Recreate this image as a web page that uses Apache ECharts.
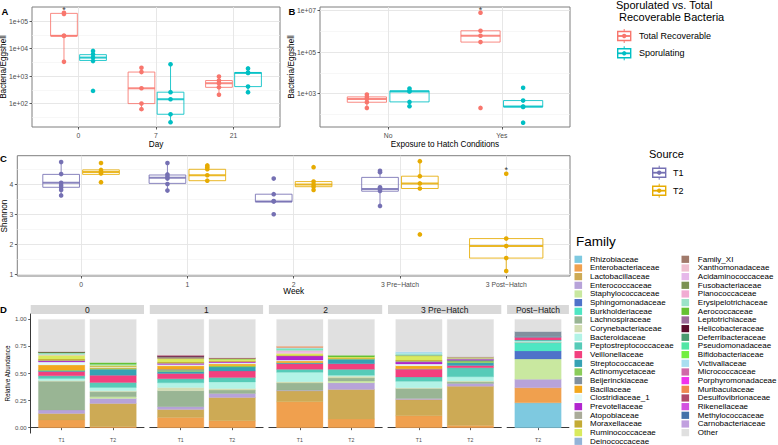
<!DOCTYPE html>
<html><head><meta charset="utf-8">
<script src="https://cdn.jsdelivr.net/npm/echarts@6/dist/echarts.min.js"></script>
<style>html,body{margin:0;padding:0;background:#fff}#c{width:778px;height:445px}</style>
</head><body><div id="c"></div>
<script>
// ================= DATA =================
// Panel A: Bacteria/Eggshell by Day. Box stats: [low whisker, Q1, median, Q3, high whisker]
const dayCats = ['0', '7', '21'];
const dayTotalBox = [[3300, 29000, 29000, 190000, 200000], [63, 100, 360, 1400, 2000], [210, 390, 550, 690, 960]];
const daySporBox  = [[3500, 3700, 4700, 6000, 8200], [21, 41, 144, 260, 2700], [260, 415, 1300, 1340, 1900]];
const dayTotalPts = [[200000, 180000, 29000, 29000, 3300], [2000, 1400, 360, 100, 63], [960, 690, 550, 390, 210]];
const daySporPts  = [[8200, 6200, 4700, 3500, 290], [2700, 260, 144, 41, 21], [1900, 1340, 1300, 415, 260]];
const daySig = [[0, 310000]];            // [category index, y] of "*" above Total Recoverable
const dayTickVals = [100, 1000, 10000, 100000];
const dayTickLabels = ['1e+02', '1e+03', '1e+04', '1e+05'];

// Panel B: Bacteria/Eggshell by exposure to hatch conditions
const expCats = ['No', 'Yes'];
const expTotalBox = [[205, 385, 557, 695, 900], [300000, 300000, 605000, 1050000, 1050000]];
const expSporBox  = [[247, 400, 1260, 1355, 1750], [229, 229, 238, 463, 463]];
const expTotalPts = [[900, 695, 557, 385, 205], [7800000, 1050000, 605000, 300000, 205]];
const expSporPts  = [[1750, 1355, 1260, 400, 247], [1900, 463, 238, 229, 40]];
const expSig = [[1, 13500000]];
const expTickVals = [1000, 100000, 10000000];
const expTickLabels = ['1e+03', '1e+05', '1e+07'];

// Panel C: Shannon diversity by week and source
const weekCats = ['0', '1', '2', '3 Pre\u2212Hatch', '3 Post\u2212Hatch'];
const weekT1Box = [[3.63, 3.90, 4.05, 4.33, 4.74], [3.79, 4.03, 4.22, 4.31, 4.71], [3.42, 3.42, 3.43, 3.67, 3.67], [3.28, 3.77, 3.84, 4.23, 4.45], null];
const weekT2Box = [[4.33, 4.33, 4.41, 4.48, 4.48], [4.10, 4.12, 4.30, 4.50, 4.63], [3.81, 3.92, 3.99, 4.09, 4.09], [3.86, 3.86, 4.03, 4.27, 4.77], [1.11, 1.54, 1.94, 2.19, 2.19]];
const weekT1Pts = [[4.74, 4.34, 4.05, 3.97, 3.89, 3.81, 3.63], [4.71, 4.33, 4.25, 4.19, 4.01, 3.79], [4.19, 3.67, 3.44, 3.43, 3.00], [4.45, 4.40, 3.90, 3.84, 3.78, 3.28], []];
const weekT2Pts = [[4.71, 4.48, 4.41, 4.36, 4.07], [4.63, 4.57, 4.50, 4.30, 4.12], [4.57, 4.09, 3.99, 3.92, 3.81], [4.77, 4.27, 4.03, 3.86, 2.33], [4.35, 2.19, 1.94, 1.54, 1.11]];
const weekSig = [[4, 4.55]];
const shannonTicks = [1, 2, 3, 4];

// Panel D: relative abundance by family
const famNames = ['Rhizobiaceae','Enterobacteriaceae','Lactobacillaceae','Enterococcaceae','Staphylococcaceae','Sphingomonadaceae','Burkholderiaceae','Lachnospiraceae','Corynebacteriaceae','Bacteroidaceae','Peptostreptococcaceae','Veillonellaceae','Streptococcaceae','Actinomycetaceae','Beijerinckiaceae','Bacillaceae','Clostridiaceae_1','Prevotellaceae','Atopobiaceae','Moraxellaceae','Ruminococcaceae','Deinococcaceae','Family_XI','Xanthomonadaceae','Acidaminococcaceae','Fusobacteriaceae','Planococcaceae','Erysipelotrichaceae','Aerococcaceae','Leptotrichiaceae','Helicobacteraceae','Deferribacteraceae','Pseudomonadaceae','Bifidobacteriaceae','Victivallaceae','Micrococcaceae','Porphyromonadaceae','Muribaculaceae','Desulfovibrionaceae','Rikenellaceae','Methylococcaceae','Carnobacteriaceae','Other'];
const famColors = ['#7ec9e0','#f0a04e','#cdaa55','#b7a3d9','#c9e8a0','#4e72c9','#4ee6c3','#99b594','#d2ddb3','#b2f3e6','#56cbb8','#f2407e','#36a2b4','#8bcc5a','#80909e','#f3a81d','#e2f8f8','#b126cf','#aaab99','#c4ab35','#d9ea5e','#93b3d8','#a17a6b','#efc0d0','#e6b8ea','#7b9152','#f1acd3','#9be3c9','#64c132','#9c6a9a','#5b0b2b','#4b9b70','#52e6a5','#72ef3f','#a9def0','#d068a9','#f033ee','#f0884f','#b14a6a','#d351e0','#4472aa','#c1a0df','#e0e0e0'];
const facetNames = ['0', '1', '2', '3 Pre\u2212Hatch', 'Post\u2212Hatch'];
const facetSources = [['T1', 'T2'], ['T1', 'T2'], ['T1', 'T2'], ['T1', 'T2'], ['T2']];
const ab_0_T1 = [0,.071,.061,.031,0,0,0,.267,.006,.018, .025,.040,.008,.006,0,.046,.028,.009,.006,.012, .034,0,0,.007,0,0,0,.015,.006,0, .006,0,0,0,0,0,0,0,0,0, 0,0,.298];
const ab_0_T2 = [0,.009,.215,.046,.015,0,0,.046,.009,.031, .046,.067,.055,.009,0,.009,.006,0,0,.006, .008,0,0,0,0,0,0,.009,.015,0, 0,0,0,0,0,0,0,0,0,0, 0,0,.399];
const ab_1_T1 = [0,.095,.074,.025,0,0,0,.147,.031,.043, .037,.049,.018,.012,.009,.031,.012,.009,.006,.009, .031,0,.009,0,0,.004,0,0,0,.006, .006,0,0,0,0,0,0,0,.006,0, 0,0,.331];
const ab_1_T2 = [0,.064,.215,.037,0,0,0,.031,.015,.061, .040,.061,.037,.012,0,.015,.012,.009,0,.009, .015,0,0,0,0,0,0,0,.006,0, 0,0,0,0,0,0,0,0,.008,0, 0,0,.353];
const ab_2_T1 = [0,.239,.101,.006,0,0,0,.067,.012,.086, .028,.052,.009,0,0,.015,.009,.037,0,.009, .015,0,0,.009,.009,0,.009,.009,0,0, 0,0,.010,0,.009,0,0,.012,0,0, 0,0,.248];
const ab_2_T2 = [0,.080,.273,.061,.018,0,0,.028,.015,.009, .055,.052,.040,.009,0,.006,0,0,0,0, .008,0,0,0,0,0,0,0,.015,0, 0,0,0,0,0,0,0,0,0,0, 0,0,.331];
const ab_3_T1 = [0,.110,.150,.009,0,0,0,.092,.009,.058, .040,.071,0,0,.006,.028,.015,.018,.009,.009, .040,0,0,0,0,.006,0,.016,0,0, 0,0,0,0,.015,0,0,0,0,0, 0,0,.298];
const ab_3_T2 = [0,.021,.362,.025,0,0,0,.015,.008,.040, .083,.021,.025,.015,.009,0,0,.009,.009,0, .008,0,0,0,0,0,0,0,0,.006, 0,0,0,0,0,0,0,0,0,0, 0,0,.344];
const ab_P_T2 = [.230,.138,0,.080,.187,.074,.074,.006,0,.012, .010,.025,.006,0,.046,0,0,0,0,0, 0,0,0,0,0,0,0,0,0,0, 0,0,0,0,0,0,0,0,0,0, 0,0,.112];
const facetSamples = [[ab_0_T1, ab_0_T2], [ab_1_T1, ab_1_T2], [ab_2_T1, ab_2_T2], [ab_3_T1, ab_3_T2], [ab_P_T2]];
const abTickVals = [0, 0.25, 0.5, 0.75, 1];
const abTickLabels = ['0.00', '0.25', '0.50', '0.75', '1.00'];

// ================= STYLE / LAYOUT =================
const FONT = '"Liberation Sans", Arial, Helvetica, sans-serif';
const RED = '#F8766D', TEAL = '#00BFC4', T1C = '#7570B3', T2C = '#E6AB02';
const GRID_MAJ = '#e4e4e4', GRID_MIN = '#f1f1f1', BORDER = '#7f7f7f', TXT = '#4d4d4d';
const DODGE = 0.1875, BOXW = 0.345, BARW = 0.9;
const L = Math.log10;

const gridA = {left: 32, top: 7, width: 248, height: 120};
const gridB = {left: 320, top: 7, width: 250, height: 120};
const gridC = {left: 17.3, top: 155.7, width: 552.7, height: 120.3};
const dTop = 314, dH = 119.1;
const facetLeft = [30.7, 149.8, 268.9, 388, 507.1];
const facetW = [113.3, 113.3, 113.3, 113.3, 61.8];

function renderBox(color) {
  return function (params, api) {
    const x = api.value(0), w = api.value(6);
    const lo = api.coord([x, api.value(1)]), q1 = api.coord([x, api.value(2)]);
    const md = api.coord([x, api.value(3)]), q3 = api.coord([x, api.value(4)]), hi = api.coord([x, api.value(5)]);
    const xl = api.coord([x - w / 2, api.value(3)])[0], xr = api.coord([x + w / 2, api.value(3)])[0];
    const st = {stroke: color, lineWidth: 1, fill: null, opacity: 0.85};
    return {type: 'group', children: [
      {type: 'line', shape: {x1: hi[0], y1: hi[1], x2: hi[0], y2: q3[1]}, style: st},
      {type: 'line', shape: {x1: lo[0], y1: q1[1], x2: lo[0], y2: lo[1]}, style: st},
      {type: 'rect', shape: {x: xl, y: q3[1], width: xr - xl, height: q1[1] - q3[1]}, style: st},
      {type: 'line', shape: {x1: xl, y1: md[1], x2: xr, y2: md[1]}, style: Object.assign({}, st, {lineWidth: 2})}
    ]};
  };
}
function boxSeries(idx, stats, offs, widths, color, tf) {
  const data = [];
  stats.forEach((s, i) => { if (s) data.push([i + 1 + offs[i], ...s.map(tf), widths[i]]); });
  return {type: 'custom', xAxisIndex: idx, yAxisIndex: idx, renderItem: renderBox(color), data: data,
          encode: {x: 0, y: [1, 2, 3, 4, 5]}, silent: true, z: 2};
}
function ptSeries(idx, pts, offs, color, tf) {
  const data = [];
  pts.forEach((arr, i) => arr.forEach(v => data.push([i + 1 + offs[i], tf(v)])));
  return {type: 'scatter', xAxisIndex: idx, yAxisIndex: idx, data: data, symbolSize: 4.6,
          itemStyle: {color: color, opacity: 1}, silent: true, z: 3};
}
function sigSeries(idx, sig, off, tf) {
  return {type: 'scatter', xAxisIndex: idx, yAxisIndex: idx, symbolSize: 0, silent: true, z: 4, clip: false,
          data: sig.map(s => [s[0] + 1 + off, tf(s[1])]),
          label: {show: true, position: 'inside', formatter: '*', fontSize: 9, fontFamily: FONT, color: '#000', offset: [0, 2.5]}};
}
const ident = v => v;

function catX(idx, n, cats) {
  const vals = cats.map((c, i) => i + 1);
  return {gridIndex: idx, type: 'value', min: 0.4, max: n + 0.6,
    axisLine: {show: false},
    axisTick: {show: true, customValues: vals, length: 2.5, lineStyle: {color: '#333', width: 0.8}},
    axisLabel: {customValues: vals, formatter: v => cats[Math.round(v) - 1], fontSize: 6.8, color: TXT, margin: 4.5, fontFamily: FONT},
    splitLine: {show: true, lineStyle: {color: GRID_MAJ, width: 0.9}}};
}
function valY(idx, min, max, vals, labels) {
  return {gridIndex: idx, type: 'value', min: min, max: max, axisLine: {show: false},
    axisTick: {show: true, customValues: vals, length: 2.5, lineStyle: {color: '#333', width: 0.8}},
    axisLabel: {customValues: vals, formatter: v => labels[vals.indexOf(vals.reduce((a, b) => Math.abs(b - v) < Math.abs(a - v) ? b : a))], fontSize: 6.8, color: TXT, margin: 4, fontFamily: FONT},
    splitLine: {show: true, lineStyle: {color: GRID_MAJ, width: 0.9}}};
}
function minorY(idx, min, max, vals) {
  return {gridIndex: idx, type: 'value', min: min, max: max, position: 'left', axisLine: {show: false},
    axisTick: {show: false, customValues: vals}, axisLabel: {show: false},
    splitLine: {show: true, lineStyle: {color: GRID_MIN, width: 0.6}}};
}

// ================= BUILD =================
const grids = [
  Object.assign({show: true, borderColor: BORDER, borderWidth: 1}, gridA),
  Object.assign({show: true, borderColor: BORDER, borderWidth: 1}, gridB),
  Object.assign({show: true, borderColor: BORDER, borderWidth: 1}, gridC)
];
facetLeft.forEach((l, k) => grids.push({left: l, top: dTop, width: facetW[k], height: dH, show: false}));

const xAxes = [catX(0, 3, dayCats), catX(1, 2, expCats), catX(2, 5, weekCats)];
const yAxes = [
  valY(0, 1.15, 5.51, dayTickVals.map(L), dayTickLabels),
  valY(1, 1.395, 7.164, expTickVals.map(L), expTickLabels),
  valY(2, 0.943, 4.953, shannonTicks, shannonTicks.map(String))
];
facetSources.forEach((src, k) => {
  const vals = src.map((s, i) => i + 1);
  xAxes.push({gridIndex: 3 + k, type: 'value', min: 0.4, max: src.length + 0.6,
    axisLine: {show: true, lineStyle: {color: '#222', width: 0.9}},
    axisTick: {show: true, customValues: vals, length: 2.5, lineStyle: {color: '#333', width: 0.8}},
    axisLabel: {customValues: vals, formatter: v => src[Math.round(v) - 1], fontSize: 5.2, color: TXT, margin: 4, fontFamily: FONT},
    splitLine: {show: false}});
  yAxes.push(k === 0 ? {gridIndex: 3, type: 'value', min: -0.05, max: 1.05,
    axisLine: {show: true, lineStyle: {color: '#222', width: 0.9}},
    axisTick: {show: true, customValues: abTickVals, length: 2.5, lineStyle: {color: '#333', width: 0.8}},
    axisLabel: {customValues: abTickVals, formatter: v => abTickLabels[Math.round(v * 4)], fontSize: 6, color: TXT, margin: 4, fontFamily: FONT},
    splitLine: {show: false}} :
    {gridIndex: 3 + k, type: 'value', min: -0.05, max: 1.05, show: false});
});
yAxes.push(minorY(0, 1.15, 5.51, [1.5, 2.5, 3.5, 4.5]));
yAxes.push(minorY(1, 1.395, 7.164, [2, 4, 6]));
yAxes.push(minorY(2, 0.943, 4.953, [1.5, 2.5, 3.5, 4.5]));

const series = [];
const off3 = [-DODGE, -DODGE, -DODGE], offP3 = [DODGE, DODGE, DODGE];
series.push(boxSeries(0, dayTotalBox, off3, [BOXW, BOXW, BOXW], RED, L));
series.push(boxSeries(0, daySporBox, offP3, [BOXW, BOXW, BOXW], TEAL, L));
series.push(ptSeries(0, dayTotalPts, off3, RED, L));
series.push(ptSeries(0, daySporPts, offP3, TEAL, L));
series.push(sigSeries(0, daySig, -DODGE, L));

series.push(boxSeries(1, expTotalBox, [-DODGE, -DODGE], [BOXW, BOXW], RED, L));
series.push(boxSeries(1, expSporBox, [DODGE, DODGE], [BOXW, BOXW], TEAL, L));
series.push(ptSeries(1, expTotalPts, [-DODGE, -DODGE], RED, L));
series.push(ptSeries(1, expSporPts, [DODGE, DODGE], TEAL, L));
series.push(sigSeries(1, expSig, -DODGE, L));

// Week panel: dodge only where both sources are present
const offT1 = weekCats.map((c, i) => weekT2Box[i] ? -DODGE : 0);
const offT2 = weekCats.map((c, i) => weekT1Box[i] ? DODGE : 0);
const wT1 = weekCats.map((c, i) => weekT2Box[i] ? BOXW : 2 * BOXW);
const wT2 = weekCats.map((c, i) => weekT1Box[i] ? BOXW : 2 * BOXW);
series.push(boxSeries(2, weekT1Box, offT1, wT1, T1C, ident));
series.push(boxSeries(2, weekT2Box, offT2, wT2, T2C, ident));
series.push(ptSeries(2, weekT1Pts, offT1, T1C, ident));
series.push(ptSeries(2, weekT2Pts, offT2, T2C, ident));
series.push(sigSeries(2, weekSig, 0, ident));

// Panel D: stacked bars, family order from the bottom up
function renderSeg(params, api) {
  const x = api.value(0);
  const p0 = api.coord([x - BARW / 2, api.value(1)]);
  const p1 = api.coord([x + BARW / 2, api.value(2)]);
  const c = famColors[api.value(3)];
  return {type: 'rect', shape: {x: p0[0], y: p1[1], width: p1[0] - p0[0], height: p0[1] - p1[1]},
          style: {fill: c, stroke: c, lineWidth: 0.3}};
}
facetSamples.forEach((samples, k) => {
  const data = [];
  samples.forEach((arr, j) => {
    let base = 0;
    arr.forEach((v, f) => { if (v > 0) { data.push([j + 1, base, base + v, f]); base += v; } });
  });
  series.push({type: 'custom', xAxisIndex: 3 + k, yAxisIndex: 3 + k, renderItem: renderSeg,
    data: data, encode: {x: 0, y: [1, 2]}, silent: true});
});

// ================= GRAPHIC (titles, strips, legends) =================
const G = [];
function txt(x, y, text, size, opts) {
  G.push(Object.assign({type: 'text', x: x, y: y, silent: true,
    style: Object.assign({text: text, fontSize: size, fontFamily: FONT, fill: '#000', align: 'center', verticalAlign: 'middle'}, (opts && opts.style) || {})},
    opts && opts.rotation ? {rotation: opts.rotation} : {}));
}
const ROT = Math.PI / 2;
txt(5, 11, 'A', 9.5, {style: {fontWeight: 'bold'}});
txt(292, 11, 'B', 9.5, {style: {fontWeight: 'bold'}});
txt(3.5, 158.5, 'C', 9.5, {style: {fontWeight: 'bold'}});
txt(3.5, 309.5, 'D', 9.5, {style: {fontWeight: 'bold'}});
txt(156, 144, 'Day', 8.2);
txt(3.8, 67, 'Bacteria/Eggshell', 8.2, {rotation: ROT});
txt(445, 144, 'Exposure to Hatch Conditions', 8.2);
txt(291.8, 67, 'Bacteria/Eggshell', 8.2, {rotation: ROT});
txt(293.7, 291.5, 'Week', 8.2);
txt(4, 216, 'Shannon', 8.2, {rotation: ROT});
txt(7.3, 373.5, 'Relative Abundance', 6.3, {rotation: ROT});

// facet strips
facetNames.forEach((nm, k) => {
  G.push({type: 'rect', silent: true, shape: {x: facetLeft[k], y: 305, width: facetW[k], height: 9}, style: {fill: '#d9d9d9'}});
  txt(facetLeft[k] + facetW[k] / 2, 309.8, nm, 8.5, {style: {fill: '#1a1a1a'}});
});

function boxKey(cx, cy, color) {
  G.push({type: 'line', silent: true, shape: {x1: cx, y1: cy - 7, x2: cx, y2: cy + 7}, style: {stroke: color, lineWidth: 1}});
  G.push({type: 'rect', silent: true, shape: {x: cx - 6.5, y: cy - 4.5, width: 13, height: 9}, style: {stroke: color, fill: '#fff', lineWidth: 1.4}});
  G.push({type: 'line', silent: true, shape: {x1: cx - 6.5, y1: cy, x2: cx + 6.5, y2: cy}, style: {stroke: color, lineWidth: 1.8}});
  G.push({type: 'circle', silent: true, shape: {cx: cx, cy: cy, r: 2.2}, style: {fill: color}});
}
// Sporulated legend
txt(616, 5, 'Sporulated vs. Total', 11, {style: {align: 'left'}});
txt(616, 17, ' Recoverable Bacteria', 11, {style: {align: 'left'}});
const sporLegend = ['Total Recoverable', 'Sporulating'];
[RED, TEAL].forEach((c, i) => {
  const cy = 36 + i * 17.3;
  boxKey(624.2, cy, c);
  txt(639, cy, sporLegend[i], 9, {style: {align: 'left'}});
});
// Source legend
txt(649, 154, 'Source', 11, {style: {align: 'left'}});
['T1', 'T2'].forEach((s, i) => {
  const cy = 172.7 + i * 18;
  boxKey(659.2, cy, [T1C, T2C][i]);
  txt(673, cy, s, 9, {style: {align: 'left'}});
});
// Family legend
txt(576, 241.7, 'Family', 13.5, {style: {align: 'left'}});
famNames.forEach((nm, f) => {
  const col = f < 22 ? 0 : 1, row = f < 22 ? f : f - 22;
  const kx = col === 0 ? 574.5 : 681.5, tx = col === 0 ? 590 : 697.8;
  const cy = 259.3 + row * 8.667;
  G.push({type: 'rect', silent: true, shape: {x: kx, y: cy - 3.6, width: 7.6, height: 7.2}, style: {fill: famColors[f]}});
  txt(tx, cy, nm, 8, {style: {align: 'left'}});
});

const chart = echarts.init(document.getElementById('c'), null, {renderer: 'svg', width: 778, height: 445});
chart.setOption({
  animation: false,
  backgroundColor: '#fff',
  textStyle: {fontFamily: FONT},
  grid: grids,
  xAxis: xAxes,
  yAxis: yAxes,
  series: series,
  graphic: {elements: G}
});
</script></body></html>
